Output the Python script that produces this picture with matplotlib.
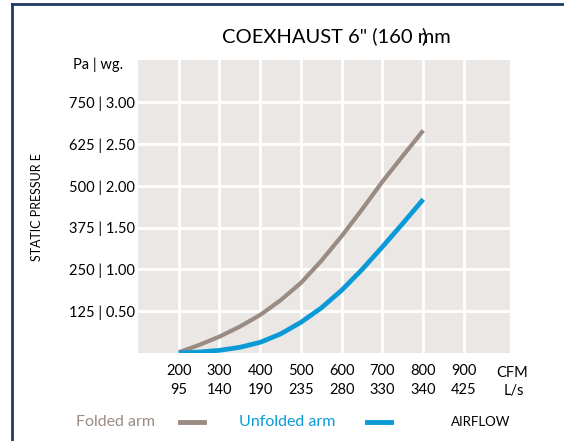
import matplotlib
matplotlib.use("Agg")
from matplotlib import pyplot as plt
from matplotlib.lines import Line2D

plt.rcParams['font.family'] = ['Lato', 'DejaVu Sans']

# airflow (CFM) and static pressure (Pa)
cfm = [200, 250, 300, 350, 400, 450, 500, 550, 600, 650, 700, 750, 800]
folded = [2, 24, 49, 79, 114, 158, 210, 276, 350, 430, 513, 590, 666]
unfolded = [0, 3, 8, 17, 32, 57, 92, 135, 188, 250, 318, 388, 460]

xticks = [200, 300, 400, 500, 600, 700, 800, 900]
ls_labels = ['95', '140', '190', '235', '280', '330', '340', '425']
yticks = [125, 250, 375, 500, 625, 750]
wg_labels = ['0.50', '1.00', '1.50', '2.00', '2.50', '3.00']

GREY = '#9a8b83'
BLUE = '#0a9ad8'
NAVY = '#1d3b63'

fig = plt.figure(figsize=(5.64, 4.41), dpi=100)

# dark frame on top and left
fig.add_artist(Line2D([12/564, 1], [1 - 4/441] * 2, color=NAVY, lw=2))
fig.add_artist(Line2D([12/564] * 2, [0, 1 - 4/441], color=NAVY, lw=2))

ax = fig.add_axes([138/564, 1 - 353/441, 372/564, 293/441])
ax.set_facecolor('#ebe7e4')
for s in ax.spines.values():
    s.set_visible(False)

ax.plot(cfm, folded, color=GREY, lw=3, solid_capstyle='butt',
        solid_joinstyle='round', zorder=3)
ax.plot(cfm, unfolded, color=BLUE, lw=3.4, solid_capstyle='butt',
        solid_joinstyle='round', zorder=3)

ax.set_xlim(100, 1013)
ax.set_ylim(0, 877)
ax.set_xticks(xticks)
ax.set_xticklabels([f'{c}\n{l}' for c, l in zip(xticks, ls_labels)],
                   fontsize=10.5, linespacing=1.45)
ax.set_yticks(yticks)
ax.set_yticklabels([f'{p} | {w}' for p, w in zip(yticks, wg_labels)], fontsize=10.5)
ax.tick_params(length=0, pad=8, axis='x')
ax.tick_params(length=0, pad=2, axis='y')
ax.grid(color='white', lw=2)
ax.set_axisbelow(True)

# titles and labels
fig.text(336/564, 1 - 36/441, 'COEXHAUST 6" (160 mm', fontsize=14.5,
         ha='center', va='center')
fig.text(424/564, 1 - 36/441, ')', fontsize=14.5, ha='center', va='center')
fig.text(98/564, 1 - 65/441, 'Pa | wg.', fontsize=10.5, ha='center', va='center')
fig.text(37/564, 1 - 207/441, 'STATIC PRESSUR E', fontsize=9,
         rotation=90, ha='center', va='center')
fig.text(512/564, 1 - 373/441, 'CFM', fontsize=10.5, ha='center', va='center')
fig.text(514/564, 1 - 391/441, 'L/s', fontsize=10.5, ha='center', va='center')

# legend row
fig.text(116/564, 1 - 422/441, 'Folded arm', fontsize=11.5, color=GREY,
         ha='center', va='center')
fig.add_artist(Line2D([180/564, 204/564], [1 - 422/441] * 2, color=GREY, lw=3.5))
fig.text(287/564, 1 - 422/441, 'Unfolded arm', fontsize=11.5, color=BLUE,
         ha='center', va='center')
fig.add_artist(Line2D([367/564, 391/564], [1 - 422/441] * 2, color=BLUE, lw=3.5))
fig.text(481/564, 1 - 422/441, 'AIRFLOW', fontsize=9.5, ha='center', va='center')

fig.savefig('out.png', dpi=100)
